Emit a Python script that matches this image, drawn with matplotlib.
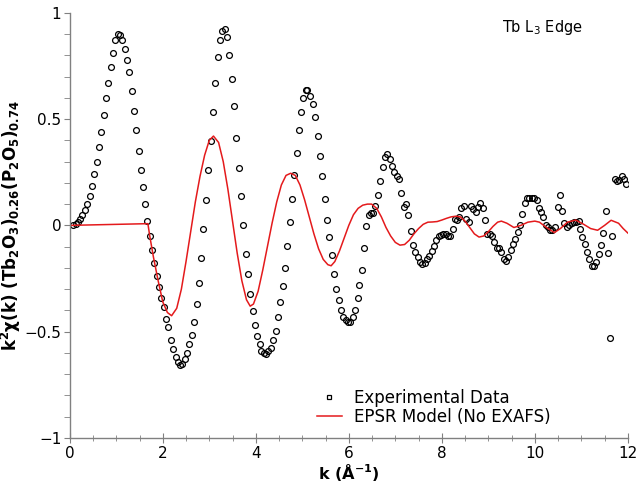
import matplotlib
matplotlib.use('Agg')
import matplotlib.pyplot as plt
from matplotlib.lines import Line2D
from matplotlib.ticker import MultipleLocator

k_exp = [0.07, 0.13, 0.18, 0.23, 0.27, 0.33, 0.38, 0.43, 0.48, 0.53,
         0.58, 0.63, 0.68, 0.73, 0.78, 0.83, 0.88, 0.93, 0.98, 1.03,
         1.08, 1.13, 1.18, 1.23, 1.28, 1.33, 1.38, 1.43, 1.48, 1.53,
         1.57, 1.62, 1.67, 1.72, 1.77, 1.82, 1.87, 1.92, 1.97, 2.02,
         2.07, 2.12, 2.18, 2.23, 2.28, 2.32, 2.37, 2.41, 2.47, 2.52,
         2.57, 2.63, 2.68, 2.73, 2.78, 2.82, 2.87, 2.92, 2.98, 3.03,
         3.08, 3.13, 3.18, 3.23, 3.28, 3.33, 3.38, 3.43, 3.48, 3.53,
         3.58, 3.63, 3.68, 3.73, 3.78, 3.83, 3.88, 3.93, 3.98, 4.03,
         4.08, 4.12, 4.17, 4.22, 4.27, 4.33, 4.38, 4.43, 4.48, 4.53,
         4.58, 4.63, 4.68, 4.73, 4.78, 4.83, 4.88, 4.93, 4.98, 5.02,
         5.07, 5.11, 5.17, 5.23, 5.28, 5.33, 5.38, 5.43, 5.48, 5.53,
         5.57, 5.63, 5.68, 5.73, 5.78, 5.83, 5.88, 5.93, 5.98, 6.03,
         6.08, 6.13, 6.19, 6.23, 6.28, 6.33, 6.38, 6.43, 6.48, 6.53,
         6.57, 6.63, 6.68, 6.73, 6.78, 6.83, 6.88, 6.93, 6.98, 7.03,
         7.08, 7.13, 7.18, 7.23, 7.28, 7.33, 7.38, 7.43, 7.48, 7.53,
         7.58, 7.63, 7.68, 7.73, 7.78, 7.83, 7.88, 7.93, 7.98, 8.03,
         8.08, 8.13, 8.18, 8.23, 8.28, 8.33, 8.38, 8.42, 8.47, 8.52,
         8.58, 8.63, 8.68, 8.73, 8.78, 8.83, 8.88, 8.93, 8.98, 9.03,
         9.08, 9.13, 9.18, 9.23, 9.28, 9.33, 9.38, 9.43, 9.48, 9.53,
         9.58, 9.63, 9.68, 9.73, 9.78, 9.83, 9.88, 9.93, 9.98, 10.04,
         10.09, 10.13, 10.17, 10.23, 10.28, 10.33, 10.38, 10.44, 10.49, 10.54,
         10.59, 10.63, 10.69, 10.74, 10.79, 10.84, 10.89, 10.94, 10.97, 11.02,
         11.07, 11.12, 11.17, 11.22, 11.27, 11.32, 11.37, 11.42, 11.47, 11.52,
         11.57, 11.62, 11.67, 11.72, 11.77, 11.82, 11.87, 11.92, 11.97]
chi_exp = [0.000, 0.005, 0.016, 0.030, 0.047, 0.070, 0.100, 0.140, 0.185, 0.240,
           0.300, 0.370, 0.440, 0.520, 0.600, 0.670, 0.745, 0.810, 0.870, 0.900,
           0.895, 0.870, 0.830, 0.780, 0.720, 0.630, 0.540, 0.450, 0.350, 0.260,
           0.180, 0.100, 0.020, -0.050, -0.115, -0.175, -0.240, -0.290, -0.340, -0.385,
           -0.440, -0.480, -0.540, -0.580, -0.620, -0.645, -0.655, -0.650, -0.630, -0.600,
           -0.560, -0.515, -0.455, -0.370, -0.270, -0.155, -0.015, 0.120, 0.260, 0.395,
           0.535, 0.670, 0.790, 0.870, 0.915, 0.925, 0.885, 0.800, 0.690, 0.560,
           0.410, 0.270, 0.140, 0.003, -0.135, -0.230, -0.325, -0.405, -0.470, -0.520,
           -0.560, -0.590, -0.600, -0.605, -0.590, -0.575, -0.540, -0.495, -0.430, -0.360,
           -0.285, -0.200, -0.095, 0.015, 0.125, 0.235, 0.340, 0.450, 0.535, 0.600,
           0.635, 0.635, 0.610, 0.570, 0.510, 0.420, 0.325, 0.230, 0.125, 0.027,
           -0.055, -0.140, -0.230, -0.300, -0.350, -0.400, -0.430, -0.445, -0.455, -0.455,
           -0.430, -0.400, -0.340, -0.280, -0.210, -0.105, -0.005, 0.047, 0.056, 0.056,
           0.090, 0.145, 0.210, 0.275, 0.320, 0.335, 0.310, 0.280, 0.250, 0.230,
           0.220, 0.150, 0.085, 0.100, 0.047, -0.025, -0.090, -0.125, -0.150, -0.170,
           -0.180, -0.175, -0.160, -0.145, -0.120, -0.095, -0.070, -0.050, -0.045, -0.040,
           -0.040, -0.050, -0.050, -0.017, 0.030, 0.025, 0.040, 0.080, 0.090, 0.030,
           0.017, 0.090, 0.075, 0.065, 0.085, 0.105, 0.083, 0.025, -0.040, -0.040,
           -0.050, -0.080, -0.105, -0.105, -0.125, -0.157, -0.168, -0.150, -0.115, -0.088,
           -0.063, -0.033, 0.003, 0.055, 0.107, 0.130, 0.128, 0.130, 0.130, 0.120,
           0.080, 0.063, 0.040, 0.000, -0.010, -0.020, -0.023, -0.010, 0.088, 0.145,
           0.066, 0.010, -0.010, 0.004, 0.010, 0.014, 0.014, 0.020, -0.018, -0.055,
           -0.088, -0.125, -0.160, -0.190, -0.193, -0.170, -0.133, -0.090, -0.036, 0.066,
           -0.130, -0.530, -0.050, 0.220, 0.210, 0.215, 0.230, 0.220, 0.195]

# EPSR model curve
k_model = [0.0, 1.68, 1.72, 1.80, 1.90, 2.00, 2.10, 2.19, 2.30, 2.40,
           2.50, 2.60, 2.70, 2.80, 2.90, 3.00, 3.09, 3.20, 3.30, 3.40,
           3.50, 3.60, 3.70, 3.80, 3.88, 3.95, 4.05, 4.15, 4.25, 4.35,
           4.45, 4.55, 4.65, 4.75, 4.85, 4.95, 5.05, 5.15, 5.25, 5.35,
           5.45, 5.55, 5.62, 5.70, 5.80, 5.90, 6.00, 6.10, 6.20, 6.30,
           6.40, 6.49, 6.60, 6.70, 6.80, 6.90, 7.00, 7.10, 7.20, 7.30,
           7.40, 7.50, 7.60, 7.70, 7.80, 7.90, 8.00, 8.10, 8.20, 8.30,
           8.40, 8.50, 8.60, 8.70, 8.80, 8.90, 9.00, 9.10, 9.20, 9.28,
           9.40, 9.55, 9.70, 9.85, 10.00, 10.10, 10.25, 10.42, 10.55, 10.70,
           10.88, 11.05, 11.20, 11.35, 11.50, 11.64, 11.80, 11.90, 12.00]
chi_model = [0.000, 0.008, -0.050, -0.150, -0.260, -0.360, -0.410, -0.425, -0.390, -0.300,
             -0.170, -0.030, 0.110, 0.230, 0.330, 0.400, 0.420, 0.390, 0.300, 0.170,
             0.020, -0.130, -0.260, -0.350, -0.380, -0.370, -0.310, -0.210, -0.100, 0.010,
             0.110, 0.190, 0.235, 0.245, 0.235, 0.190, 0.120, 0.040, -0.040, -0.110,
             -0.160, -0.185, -0.190, -0.170, -0.120, -0.060, 0.000, 0.050, 0.080, 0.095,
             0.100, 0.100, 0.080, 0.040, -0.010, -0.050, -0.080, -0.093, -0.090, -0.070,
             -0.040, -0.015, 0.005, 0.015, 0.016, 0.018, 0.025, 0.033, 0.040, 0.043,
             0.040, 0.020, -0.010, -0.040, -0.055, -0.050, -0.030, -0.005, 0.015, 0.020,
             0.010, -0.010, 0.000, 0.015, 0.020, 0.015, -0.010, -0.034, -0.015, 0.015,
             0.025, 0.005, -0.015, -0.023, 0.000, 0.024, 0.010, -0.015, -0.036]

plt.rcParams['font.family'] = 'DejaVu Sans'
plt.rcParams['mathtext.default'] = 'bf'

fig = plt.figure(figsize=(6.4, 4.91), dpi=100)
ax = fig.add_axes([0.109, 0.108, 0.872, 0.866])

ax.plot(k_exp, chi_exp, linestyle='none', marker='o', markersize=4.2,
        markerfacecolor='none', markeredgecolor='black', markeredgewidth=0.9)
ax.plot(k_model, chi_model, color='#e41a1c', linewidth=1.1)

ax.set_xlim(0, 12)
ax.set_ylim(-1, 1)
ax.xaxis.set_major_locator(MultipleLocator(2))
ax.xaxis.set_minor_locator(MultipleLocator(0.5))
ax.yaxis.set_major_locator(MultipleLocator(0.5))
ax.yaxis.set_minor_locator(MultipleLocator(0.1))
ax.set_yticks([-1, -0.5, 0, 0.5, 1])
ax.set_yticklabels(['\u22121', '\u22120.5', '0', '0.5', '1'])

for side in ['top', 'right']:
    ax.spines[side].set_visible(False)
for side in ['left', 'bottom']:
    ax.spines[side].set_color('#808080')
    ax.spines[side].set_linewidth(1.0)

ax.tick_params(axis='x', which='major', direction='inout', length=7, color='#808080', labelsize=11, pad=2)
ax.tick_params(axis='x', which='minor', direction='inout', length=5, color='#808080')
ax.tick_params(axis='y', which='major', direction='out', length=4, color='#808080', labelsize=11, pad=2)
ax.tick_params(axis='y', which='minor', direction='out', length=4, color='#808080')

ax.set_xlabel('k (\u00c5$^{-1}$)', fontsize=11.5, fontweight='bold', labelpad=1)
ax.set_ylabel('k$^2$\u03c7(k) (Tb$_2$O$_3$)$_{0.26}$(P$_2$O$_5$)$_{0.74}$',
              fontsize=12, fontweight='bold', labelpad=1)

ax.text(0.919, 0.988, 'Tb L$_\\mathregular{3}$ Edge', transform=ax.transAxes,
        ha='right', va='top', fontsize=10.5)

handles = [Line2D([], [], linestyle='none', marker='s', markersize=3.5,
                  markerfacecolor='none', markeredgecolor='black', markeredgewidth=0.9),
           Line2D([], [], color='#e41a1c', linewidth=1.1)]
ax.legend(handles, ['Experimental Data', 'EPSR Model (No EXAFS)'],
          loc='lower left', bbox_to_anchor=(0.431, 0.012), borderaxespad=0,
          frameon=False, fontsize=12, handlelength=1.5, handletextpad=0.7,
          labelspacing=0.1)

fig.savefig('out.png', dpi=100)
